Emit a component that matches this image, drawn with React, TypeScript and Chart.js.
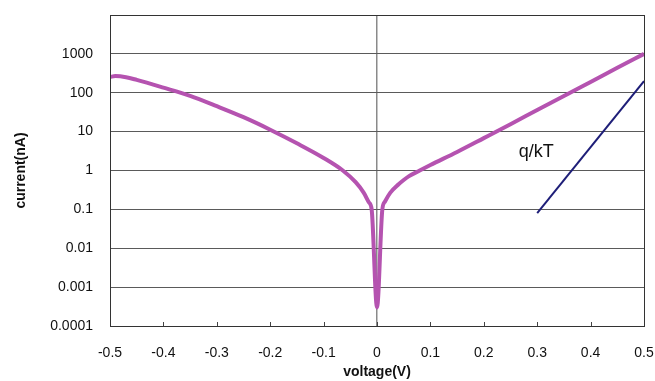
import React, { useEffect, useRef } from "react";
import { Chart, registerables } from "chart.js";

Chart.register(...registerables);

// Measured I-V curve (voltage in V, current in nA)
const VOLTAGE = [
  -0.5, -0.49, -0.47, -0.45, -0.4, -0.35, -0.3, -0.25, -0.2, -0.15, -0.1,
  -0.064, -0.04, -0.025, -0.015, -0.01, 0, 0.01, 0.015, 0.025, 0.04, 0.05,
  0.06, 0.08, 0.1, 0.15, 0.2, 0.25, 0.3, 0.35, 0.4, 0.45, 0.5,
];
const CURRENT = [
  255, 268, 251, 214, 135, 83, 45, 23.5, 11.2, 5, 2.1,
  1, 0.5, 0.27, 0.15, 0.1, 0.0003, 0.1, 0.16, 0.27, 0.437, 0.57,
  0.716, 1.0, 1.38, 3.0, 6.8, 15.5, 36, 83, 190, 437, 1000,
];
// q/kT reference slope line
const SLOPE_V = [0.3, 0.5];
const SLOPE_I = [0.08, 200];
const SLOPE_LABEL = "q/kT";
const SLOPE_LABEL_AT = { x: 0.298, y: 2.9 };

const X_TICKS = [-0.5, -0.4, -0.3, -0.2, -0.1, 0, 0.1, 0.2, 0.3, 0.4, 0.5];
const Y_TICKS = [0.0001, 0.001, 0.01, 0.1, 1, 10, 100, 1000, 10000];

const FONT = "'Liberation Sans', Arial, sans-serif";

const framePlugin = {
  id: "frame",
  afterDatasetsDraw(chart: any) {
    const { ctx, chartArea, scales } = chart;
    const { left, right, top, bottom } = chartArea;
    ctx.save();
    // inner tick marks on the x axis
    ctx.strokeStyle = "#444";
    ctx.lineWidth = 1;
    X_TICKS.forEach((v) => {
      const x = Math.round(scales.x.getPixelForValue(v)) + 0.5;
      ctx.beginPath();
      ctx.moveTo(x, bottom);
      ctx.lineTo(x, bottom - 4);
      ctx.stroke();
    });
    // frame
    ctx.strokeStyle = "#333";
    ctx.lineWidth = 1;
    ctx.strokeRect(Math.round(left) + 0.5, Math.round(top) + 0.5, Math.round(right - left), Math.round(bottom - top));
    // label
    ctx.fillStyle = "#111";
    ctx.font = `18px ${FONT}`;
    ctx.textAlign = "center";
    ctx.textBaseline = "middle";
    ctx.fillText(
      SLOPE_LABEL,
      scales.x.getPixelForValue(SLOPE_LABEL_AT.x),
      scales.y.getPixelForValue(SLOPE_LABEL_AT.y)
    );
    ctx.restore();
  },
};

export default function App() {
  const ref = useRef<HTMLCanvasElement | null>(null);
  useEffect(() => {
    if (!ref.current) return;
    const chart = new Chart(ref.current, {
      type: "line",
      data: {
        datasets: [
          {
            data: VOLTAGE.map((x, i) => ({ x, y: CURRENT[i] })),
            borderColor: "#B553B0",
            borderWidth: 4,
            pointRadius: 0,
            cubicInterpolationMode: "monotone",
            fill: false,
          },
          {
            data: SLOPE_V.map((x, i) => ({ x, y: SLOPE_I[i] })),
            borderColor: "#1E1E78",
            borderWidth: 2,
            pointRadius: 0,
            tension: 0,
            fill: false,
          },
        ],
      },
      options: {
        animation: false,
        responsive: false,
        layout: { padding: { top: 15, right: 11, left: 0, bottom: 0 } },
        plugins: { legend: { display: false }, tooltip: { enabled: false } },
        scales: {
          x: {
            type: "linear",
            min: -0.5,
            max: 0.5,
            afterBuildTicks: (s: any) => {
              s.ticks = X_TICKS.map((v) => ({ value: v }));
            },
            afterFit: (s: any) => {
              s.height = 55;
              s.paddingLeft = 0;
              s.paddingRight = 0;
            },
            border: { display: false },
            grid: {
              drawTicks: false,
              color: (c: any) => (c.tick && Math.abs(c.tick.value) < 1e-9 ? "#8a8a8a" : "rgba(0,0,0,0)"),
              lineWidth: 1.5,
            },
            ticks: {
              padding: 19,
              color: "#111",
              font: { family: FONT, size: 14 },
              maxRotation: 0,
              callback: (v: any) => (Math.abs(v) < 1e-9 ? "0" : Number(v).toFixed(1)),
            },
            title: {
              display: true,
              text: "voltage(V)",
              color: "#111",
              font: { family: FONT, size: 14, weight: "bold" },
              padding: { top: 0, bottom: 0 },
            },
          },
          y: {
            type: "logarithmic",
            min: 0.0001,
            max: 10000,
            afterBuildTicks: (s: any) => {
              s.ticks = Y_TICKS.map((v) => ({ value: v }));
            },
            afterFit: (s: any) => {
              s.width = 110;
              s.paddingTop = 0;
              s.paddingBottom = 0;
            },
            border: { display: false },
            grid: {
              drawTicks: false,
              color: "#5a5a5a",
              lineWidth: 1,
            },
            ticks: {
              padding: 17,
              color: "#111",
              font: { family: FONT, size: 14 },
              callback: (v: any) => (v >= 10000 ? "" : String(v)),
            },
            title: {
              display: true,
              text: "current(nA)",
              color: "#111",
              font: { family: FONT, size: 14, weight: "bold" },
              padding: { top: 13, bottom: 0 },
            },
          },
        },
      },
      plugins: [framePlugin],
    } as any);
    return () => chart.destroy();
  }, []);
  return (
    <div style={{ position: "fixed", left: 0, top: 0, width: 655, height: 381, background: "#fff" }}>
      <canvas ref={ref} width={655} height={381} style={{ width: 655, height: 381 }} />
    </div>
  );
}
